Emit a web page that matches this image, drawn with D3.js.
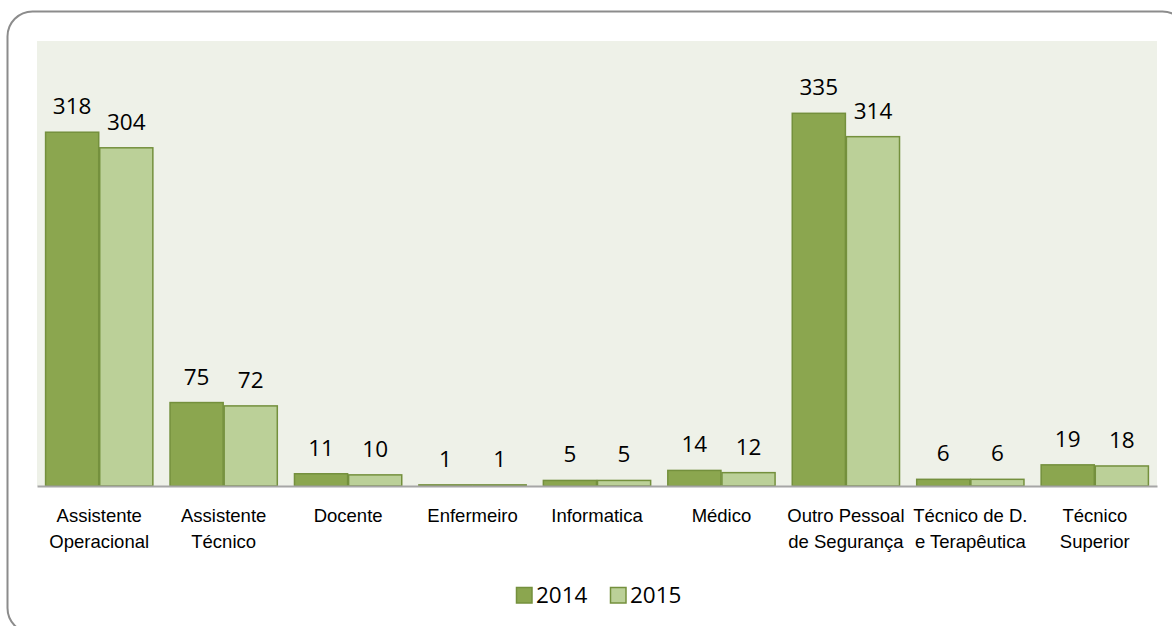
<!DOCTYPE html>
<html>
<head>
<meta charset="utf-8">
<script src="https://cdn.jsdelivr.net/npm/d3@7/dist/d3.min.js"></script>
<style>
  body { margin: 0; background: #fff; }
  svg { display: block; font-family: "Open Sans", sans-serif; }
</style>
</head>
<body>
<svg id="chart" width="1172" height="626"></svg>
<script>
// data
var categories = ["Assistente\nOperacional", "Assistente\nTécnico", "Docente", "Enfermeiro",
    "Informatica", "Médico", "Outro Pessoal\nde Segurança", "Técnico de D.\ne Terapêutica", "Técnico\nSuperior"];
var series = ["2014", "2015"];
var values2014 = [318, 75, 11, 1, 5, 14, 335, 6, 19];
var values2015 = [304, 72, 10, 1, 5, 12, 314, 6, 18];

var fills = ["#8ba64f", "#bbd098"];
var strokeCol = "#74903d";

var svg = d3.select("#chart");

// outer rounded frame
svg.append("rect")
    .attr("x", 7.5).attr("y", 11.5)
    .attr("width", 1180).attr("height", 621.5)
    .attr("rx", 25).attr("ry", 25)
    .attr("fill", "#fff")
    .attr("stroke", "#8c8c8c")
    .attr("stroke-width", 2);

var plot = { left: 37, right: 1157, top: 41, bottom: 486 };

svg.append("rect")
    .attr("x", plot.left).attr("y", plot.top)
    .attr("width", plot.right - plot.left).attr("height", plot.bottom - plot.top)
    .attr("fill", "#eef1e8");

var x = d3.scaleBand()
    .domain(d3.range(categories.length))
    .range([plot.left, plot.right])
    .paddingInner(0.13)
    .paddingOuter(0.065);

var xs = d3.scaleBand()
    .domain(series)
    .range([0, x.bandwidth()]);

var y = d3.scaleLinear()
    .domain([0, 400])
    .range([plot.bottom, plot.top]);

var rows = categories.map(function (c, i) {
    return [{ s: "2014", v: values2014[i] }, { s: "2015", v: values2015[i] }];
});

var groups = svg.append("g").selectAll("g")
    .data(rows)
    .enter().append("g")
    .attr("transform", function (d, i) { return "translate(" + x(i) + ",0)"; });

groups.selectAll("rect")
    .data(function (d) { return d; })
    .enter().append("rect")
    .attr("x", function (d) { return xs(d.s) + 0.5; })
    .attr("y", function (d) { return y(d.v); })
    .attr("width", xs.bandwidth() - 1)
    .attr("height", function (d) { return y(0) - y(d.v); })
    .attr("fill", function (d, i) { return fills[i]; })
    .attr("stroke", strokeCol)
    .attr("stroke-width", 1.5);

groups.selectAll("text")
    .data(function (d) { return d; })
    .enter().append("text")
    .attr("x", function (d) { return xs(d.s) + xs.bandwidth() / 2; })
    .attr("y", function (d) { return y(d.v) - 18; })
    .attr("text-anchor", "middle")
    .attr("font-size", "22.5px")
    .attr("fill", "#000")
    .text(function (d) { return d.v; });

// x axis: baseline + category labels
var xAxis = svg.append("g")
    .attr("transform", "translate(0," + plot.bottom + ")")
    .call(d3.axisBottom(x).tickSize(0).tickSizeOuter(0).tickFormat(""));

xAxis.select(".domain")
    .attr("stroke", "#a6a6a6")
    .attr("stroke-width", 2);

xAxis.selectAll(".tick text").remove();
xAxis.selectAll(".tick").each(function (d) {
    var lines = categories[d].split("\n");
    var t = d3.select(this).append("text")
        .attr("text-anchor", "middle")
        .attr("font-size", "18.5px")
        .attr("fill", "#000");
    lines.forEach(function (l, k) {
        t.append("tspan")
            .attr("x", 0)
            .attr("y", 36 + k * 25.5)
            .text(l);
    });
});

// legend
var legend = svg.append("g").attr("transform", "translate(516,587)");
var legendX = [0, 94];
series.forEach(function (s, i) {
    var g = legend.append("g").attr("transform", "translate(" + legendX[i] + ",0)");
    g.append("rect")
        .attr("x", 0.5).attr("y", 0.5)
        .attr("width", 15.5).attr("height", 15.5)
        .attr("fill", fills[i])
        .attr("stroke", strokeCol)
        .attr("stroke-width", 1.5);
    g.append("text")
        .attr("x", 20)
        .attr("y", 15.5)
        .attr("font-size", "22.5px")
        .attr("fill", "#000")
        .text(s);
});
</script>
</body>
</html>
